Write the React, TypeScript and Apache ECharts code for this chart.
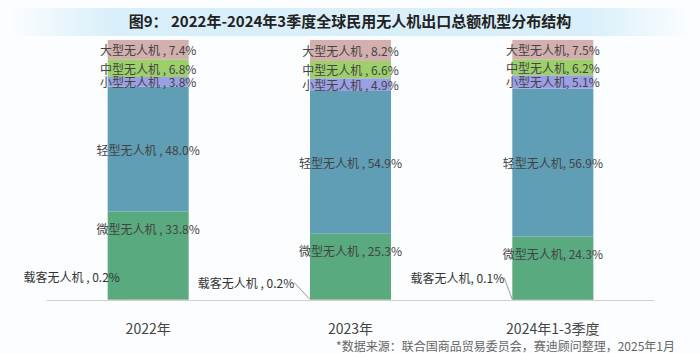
import React, { useEffect, useRef } from "react";
import * as echarts from "echarts";

const categories = ["2022年", "2023年", "2024年1-3季度"];
const seriesNames = ["载客无人机", "微型无人机", "轻型无人机", "小型无人机", "中型无人机", "大型无人机"];
const passenger = [0.2, 0.2, 0.1];
const micro = [33.8, 25.3, 24.3];
const light = [48.0, 54.9, 56.9];
const small = [3.8, 4.9, 5.1];
const medium = [6.8, 6.6, 6.2];
const large = [7.4, 8.2, 7.5];
const values = [passenger, micro, light, small, medium, large];
const colors = ["#E0A060", "#59AA7E", "#5F9EB4", "#9B9FE5", "#9DD06B", "#D3AFAE"];
const titleText = "图9： 2022年-2024年3季度全球民用无人机出口总额机型分布结构";
const sourceText = "*数据来源：联合国商品贸易委员会，赛迪顾问整理，2025年1月";

const FONT = "'Noto Sans CJK SC', 'Noto Sans', sans-serif";

const fmt = (p: any) => {
  const v = Number(p.value).toFixed(1);
  return p.dataIndex === 2 ? `${p.seriesName}, ${v}%` : `${p.seriesName} , ${v}%`;
};

const passengerOffsets = [
  { dx: -36, dy: -23 },
  { dx: -64, dy: -17 },
  { dx: -55, dy: -22 },
];

export default function App() {
  const ref = useRef<HTMLDivElement>(null);
  useEffect(() => {
    if (!ref.current) return;
    const chart = echarts.init(ref.current, null, { renderer: "svg" });
    const series: any[] = seriesNames.map((name, i) => {
      const s: any = {
        name,
        type: "bar",
        stack: "total",
        data: values[i],
        barWidth: 81,
        itemStyle: { color: colors[i] },
        label: {
          show: true,
          position: i === 1 ? "insideTop" : "inside",
          distance: 11,
          formatter: fmt,
          color: "#444",
          fontSize: 12,
          lineHeight: 11,
          fontFamily: FONT,
        },
      };
      if (i === 0) {
        s.label = {
          show: true,
          position: "left",
          formatter: fmt,
          color: "#333",
          fontSize: 12,
          lineHeight: 12,
          fontFamily: FONT,
        };
        s.labelLayout = (p: any) => {
          const o = passengerOffsets[p.dataIndex];
          return {
            x: p.rect.x + o.dx,
            y: p.rect.y + o.dy,
            align: "center",
            verticalAlign: "middle",
          };
        };
        s.labelLine = { show: true, lineStyle: { color: "#999", width: 1 } };
      }
      return s;
    });
    chart.setOption({
      animation: false,
      backgroundColor: "#fbfdfe",
      title: {
        text: titleText,
        left: "center",
        top: 8,
        textStyle: { fontSize: 15, fontWeight: "bold", color: "#222", fontFamily: FONT },
      },
      graphic: [
        {
          type: "rect",
          z: -10,
          shape: { x: 10, y: 8, width: 680, height: 28 },
          style: {
            fill: new echarts.graphic.LinearGradient(0, 0, 1, 0, [
              { offset: 0, color: "rgba(215,238,250,0)" },
              { offset: 0.15, color: "rgba(215,238,250,0.95)" },
              { offset: 0.85, color: "rgba(215,238,250,0.95)" },
              { offset: 1, color: "rgba(215,238,250,0)" },
            ]),
          },
        },
        {
          type: "text",
          x: 675,
          y: 345,
          style: {
            text: sourceText,
            fontSize: 12,
            fontFamily: FONT,
            fill: "#666",
            align: "right",
            verticalAlign: "middle",
          },
        },
      ],
      grid: { left: 47, right: 46, top: 40, bottom: 53 },
      xAxis: {
        type: "category",
        data: categories,
        axisLine: { lineStyle: { color: "#d0d0d0" } },
        axisTick: { show: false },
        axisLabel: { color: "#444", fontSize: 14, lineHeight: 14, margin: 21, fontFamily: FONT },
      },
      yAxis: { type: "value", min: 0, max: 100, show: false, splitLine: { show: false } },
      series,
    });
    return () => chart.dispose();
  }, []);
  return (
    <div
      ref={ref}
      style={{ position: "absolute", left: 0, top: 0, width: 700, height: 353 }}
    />
  );
}
